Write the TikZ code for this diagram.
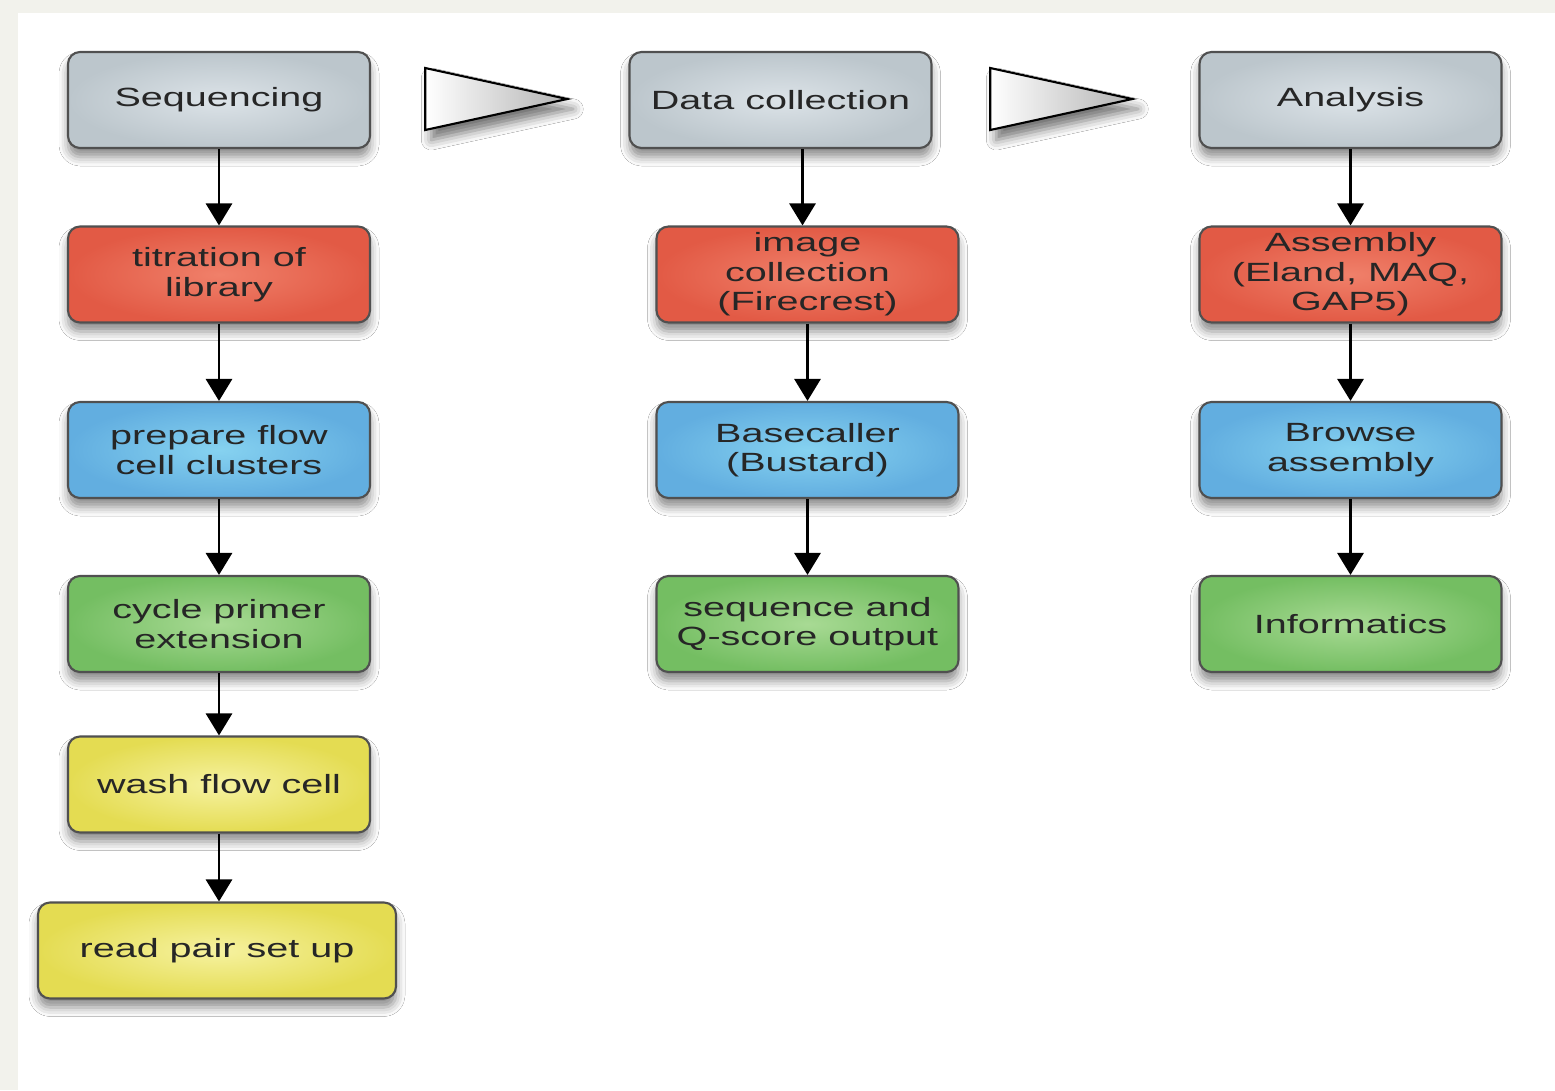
\documentclass[tikz,border=0pt]{standalone}
\usepackage{fontspec}
\newfontfamily\boxfont{Liberation Sans}[FakeStretch=1.5]
\usepackage{tikz}
\usetikzlibrary{arrows.meta,positioning,calc,shapes.geometric,shadows.blur}
\usepackage{xcolor}
\definecolor{fpage}{HTML}{F2F2EC}
\definecolor{fedge}{HTML}{505050}
\definecolor{fink}{HTML}{262626}
\definecolor{fgreyin}{HTML}{DCE3E8}
\definecolor{fgreyout}{HTML}{BCC6CC}
\definecolor{fredin}{HTML}{F0806A}
\definecolor{fredout}{HTML}{E25A45}
\definecolor{fbluein}{HTML}{86D2F0}
\definecolor{fblueout}{HTML}{62AEE0}
\definecolor{fgreenin}{HTML}{A8DA94}
\definecolor{fgreenout}{HTML}{74BE62}
\definecolor{fyellowin}{HTML}{F6F2A0}
\definecolor{fyellowout}{HTML}{E4DC52}
\tikzset{
  stage/.style   = {draw=fedge, line width=0.6pt, rounded corners=1.2mm,
                    minimum width=3.02cm, minimum height=0.96cm, inner sep=0pt,
                    align=center, text=fink,
                    font=\boxfont\fontsize{7.5}{8.4}\selectfont,
                    blur shadow={shadow xshift=0mm, shadow yshift=-0.9mm,
                                 shadow blur radius=0.9mm, shadow opacity=45}},
  head/.style    = {stage, inner color=fgreyin, outer color=fgreyout},
  redbox/.style  = {stage, inner color=fredin, outer color=fredout},
  bluebox/.style = {stage, inner color=fbluein, outer color=fblueout},
  greenbox/.style= {stage, inner color=fgreenin, outer color=fgreenout},
  yellowbox/.style={stage, inner color=fyellowin, outer color=fyellowout},
  goarrow/.style = {draw=black, line width=0.6pt, isosceles triangle,
                    isosceles triangle stretches, shape border rotate=0,
                    minimum width=0.62cm, minimum height=1.42cm, inner sep=0pt,
                    anchor=apex, left color=white, right color=black!30,
                    blur shadow={shadow xshift=0.6mm, shadow yshift=-1.0mm,
                                 shadow blur radius=1.0mm, shadow opacity=55}},
  sig/.style     = {-{Triangle[length=2.2mm,width=2.6mm]}, line width=0.85pt},
}
\begin{document}
\begin{tikzpicture}[x=1cm,y=1cm]
% page and panel
\fill[fpage] (0,0) rectangle (15.55,-10.90);
\fill[white] (0.18,-0.13) rectangle (15.55,-10.90);
\useasboundingbox (0,0) rectangle (15.55,-10.90);
% sequencing column
\node[head]      (seq)  at (2.19,-1.00)  {Sequencing};
\node[redbox]    (titr) at (2.19,-2.745) {titration of\\library};
\node[bluebox]   (prep) at (2.19,-4.50)  {prepare flow\\cell clusters};
\node[greenbox]  (cyc)  at (2.19,-6.24)  {cycle primer\\extension};
\node[yellowbox] (wash) at (2.19,-7.845) {wash flow cell};
\node[yellowbox,minimum width=3.58cm] (pair) at (2.17,-9.505) {read pair set up};
% data collection column
\node[head]      (dc)   at (7.805,-1.00)  {Data collection};
\node[redbox]    (img)  at (8.075,-2.745) {image\\collection\\(Firecrest)};
\node[bluebox]   (base) at (8.075,-4.50)  {Basecaller\\(Bustard)};
\node[greenbox]  (qout) at (8.075,-6.24)  {sequence and\\Q-score output};
% analysis column
\node[head]      (ana)  at (13.505,-1.00)  {Analysis};
\node[redbox]    (asm)  at (13.505,-2.745) {Assembly\\(Eland, MAQ,\\GAP5)};
\node[bluebox]   (brow) at (13.505,-4.50)  {Browse\\assembly};
\node[greenbox]  (info) at (13.505,-6.24)  {Informatics};
% stage pointers
\node[goarrow] (go1) at (5.70,-0.99) {};
\node[goarrow] (go2) at (11.35,-0.99) {};
% flow
\draw[sig] (seq)  -- (titr);
\draw[sig] (titr) -- (prep);
\draw[sig] (prep) -- (cyc);
\draw[sig] (cyc)  -- (wash);
\draw[sig] (wash) -- (wash |- pair.north);
\coordinate (dcout) at ($(dc.south -| img.north)+(-0.05,0)$);
\draw[sig] (dcout) -- (dcout |- img.north);
\draw[sig] (img)  -- (base);
\draw[sig] (base) -- (qout);
\draw[sig] (ana)  -- (asm);
\draw[sig] (asm)  -- (brow);
\draw[sig] (brow) -- (info);
\end{tikzpicture}
\end{document}
